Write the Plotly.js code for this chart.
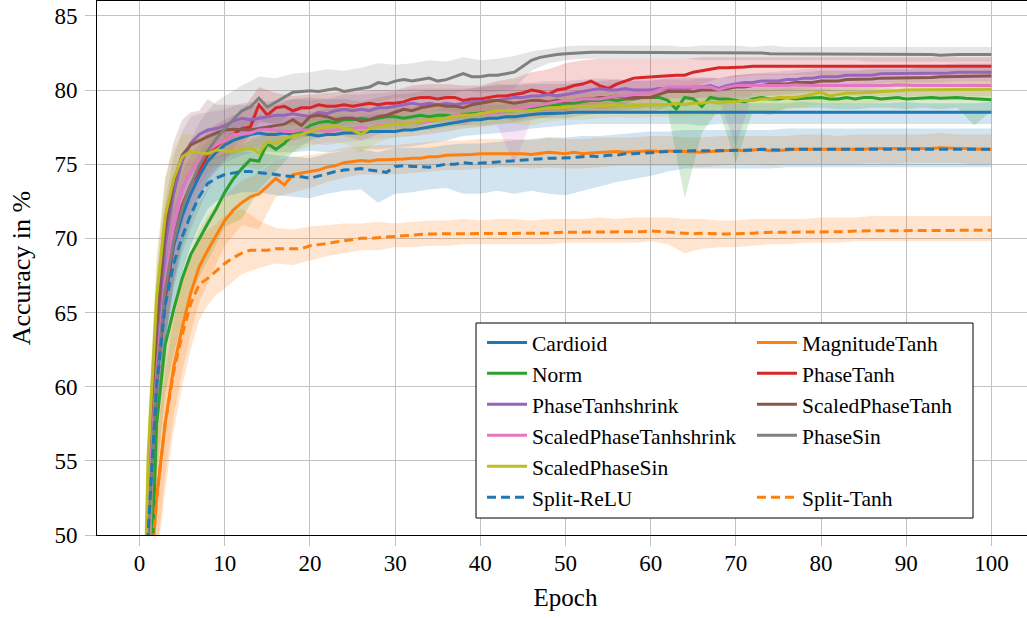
<!DOCTYPE html>
<html><head><meta charset="utf-8">
<script src="https://cdn.plot.ly/plotly-3.0.1.min.js"></script>
<style>html,body{margin:0;padding:0;overflow:hidden;background:#fff}#chart{width:1040px;height:619px}</style>
</head><body><div id="chart"></div>
<script>
const epochs = [0,1,2,3,4,5,6,7,8,9,10,11,12,13,14,15,16,17,18,19,20,21,22,23,24,25,26,27,28,29,30,31,32,33,34,35,36,37,38,39,40,41,42,43,44,45,46,47,48,49,50,51,52,53,54,55,56,57,58,59,60,61,62,63,64,65,66,67,68,69,70,71,72,73,74,75,76,77,78,79,80,81,82,83,84,85,86,87,88,89,90,91,92,93,94,95,96,97,98,99,100];
const bandEpochs = [0,1,2,3,4,5,6,7,8,9,10,12,14,16,18,20,22,24,26,28,30,32,34,36,38,40,42,44,46,48,50,52,54,56,58,60,62,64,66,68,70,72,74,76,78,80,82,84,86,88,90,92,94,96,98,100];
const xTicks = [0,10,20,30,40,50,60,70,80,90,100];
const yTicks = [50,55,60,65,70,75,80,85];

const cardioid = [30,51,60.5,66,69.5,71.5,73,74.2,75.2,75.8,76.3,
 76.6,76.8,77.0,77.1,77.0,77.0,77.1,77.0,77.1,77.0,
 76.9,77.0,77.0,77.1,77.1,77.1,77.2,77.2,77.2,77.2,
 77.3,77.3,77.4,77.5,77.6,77.7,77.8,77.9,78.0,78.0,
 78.1,78.1,78.2,78.2,78.3,78.35,78.4,78.4,78.45,78.45,
 78.5,78.5,78.5,78.45,78.5,78.5,78.5,78.5,78.5,78.5,
 78.5,78.5,78.5,78.5,78.5,78.45,78.5,78.5,78.5,78.5,
 78.5,78.5,78.5,78.5,78.5,78.5,78.5,78.5,78.5,78.5,
 78.5,78.5,78.5,78.5,78.5,78.5,78.5,78.5,78.5,78.5,
 78.5,78.5,78.5,78.5,78.5,78.5,78.5,78.5,78.5,78.5];
const cardioidHi = [33,55,64,69,72,73.6,74.8,75.8,76.6,77.1,77.5,
 78.0,78.3,78.2,78.2,78.1,78.2,78.3,78.2,78.4,78.3,
 78.5,78.6,78.8,78.9,79.0,79.0,79.1,79.1,79.1,79.1,
 79.1,79.1,79.2,79.1,79.1,79.1,79.1,79.1,79.2,79.1,
 79.1,79.1,79.1,79.2,79.1,79.1,79.1,79.1,79.1,79.2,
 79.1,79.1,79.1,79.1,79.2];
const cardioidLo = [27,47,57,63,67,69.4,71.2,72.6,73.8,74.5,75.1,
 75.6,75.9,75.8,75.8,75.9,75.8,75.9,76.0,76.0,76.1,
 76.2,76.4,76.6,76.9,77.0,77.1,77.2,77.4,77.5,77.6,
 77.7,77.7,77.7,77.7,77.7,77.7,77.7,77.6,77.7,77.7,
 77.7,77.7,77.7,77.7,77.7,77.7,77.7,77.7,77.7,77.7,
 77.7,77.7,77.7,77.7,77.7];

const magnitudeTanh = [25,45,52.5,57.5,61.3,64.0,66.3,68.1,69.2,70.2,71.2,
 71.9,72.4,72.8,73.0,73.5,74.05,73.6,74.3,74.4,74.5,
 74.6,74.8,74.9,75.1,75.15,75.25,75.2,75.3,75.3,75.3,
 75.35,75.4,75.4,75.5,75.5,75.6,75.6,75.6,75.65,75.7,
 75.7,75.75,75.7,75.75,75.7,75.65,75.7,75.8,75.75,75.7,
 75.8,75.7,75.75,75.8,75.8,75.85,75.8,75.85,75.9,75.9,
 75.85,75.9,75.9,75.85,75.8,75.8,75.85,75.9,75.9,75.95,
 75.9,75.95,76.0,75.9,75.9,75.95,76.0,76.0,76.0,76.0,
 76.0,75.95,76.0,76.0,76.0,76.05,76.05,76.0,76.0,76.05,
 76.05,76.05,76.05,76.1,76.05,76.05,76.05,76.0,76.0,76.0];
const magnitudeTanhHi = [29,49,56.5,61,64.5,67,69,70.5,71.5,72.2,72.9,
 73.9,74.4,75.3,75.5,75.6,75.8,76.1,76.2,76.3,76.3,
 76.4,76.5,76.6,76.6,76.7,76.7,76.7,76.6,76.8,76.7,
 76.7,76.8,76.8,76.8,76.9,76.9,76.8,76.8,76.9,76.9,
 76.9,76.9,76.9,77.0,77.0,76.9,77.0,77.0,77.0,77.0,
 77.0,77.1,77.0,77.0,77.0];
const magnitudeTanhLo = [21,41,48.5,54,58,61,63.6,65.7,67,68.2,69.5,
 70.9,70.6,72.8,73.1,73.4,73.8,74.1,74.3,74.3,74.3,
 74.4,74.5,74.6,74.6,74.7,74.8,74.8,74.7,74.8,74.7,
 74.7,74.8,74.9,74.9,74.9,74.9,74.9,74.8,74.9,75.0,
 75.0,74.9,75.0,75.0,75.0,75.0,75.0,75.1,75.0,75.1,
 75.1,75.1,75.1,75.0,75.0];

const norm = [25,40,57.5,62.8,65.2,67.3,68.9,70.0,71.0,72.0,73.1,
 74.0,74.7,75.3,75.2,76.4,76.0,76.4,77.0,77.2,77.6,
 77.8,77.9,77.8,78.0,78.0,78.1,78.0,78.1,78.2,78.2,
 78.1,78.2,78.3,78.2,78.3,78.3,78.2,78.35,78.4,78.4,
 78.5,78.5,78.6,78.6,78.7,78.8,78.8,78.9,79.0,79.1,
 79.1,79.2,79.3,79.3,79.4,79.3,79.4,79.4,79.5,79.5,
 79.5,79.3,78.7,79.5,79.4,78.9,79.5,79.4,79.4,79.3,
 79.2,79.4,79.5,79.4,79.4,79.5,79.4,79.45,79.5,79.5,
 79.4,79.4,79.5,79.4,79.5,79.5,79.4,79.45,79.5,79.4,
 79.45,79.5,79.5,79.45,79.5,79.5,79.45,79.4,79.35,79.35];
const normHi = [29,46,61,66,68.2,70,71.5,72.5,73.4,74.3,75.1,
 76.3,76.9,77.4,78.1,78.5,78.7,78.8,78.8,78.9,78.9,
 78.9,79.0,79.0,79.1,79.1,79.2,79.3,79.5,79.6,79.8,
 79.8,79.9,79.9,80.0,80.1,80.1,80.1,80.0,80.1,80.0,
 80.0,80.0,80.1,80.1,80.1,80.0,80.0,80.1,80.1,80.0,
 80.1,80.1,80.1,80.0,80.0];
const normLo = [21,35,54,59.5,62.2,64.5,66.3,67.5,68.5,69.6,70.8,
 71.3,73.3,74.5,75.8,76.6,77.0,77.1,77.2,77.2,77.4,
 77.4,77.3,77.5,77.6,77.6,77.7,77.8,78.0,78.2,78.4,
 78.5,78.6,78.6,78.7,78.8,78.6,72.7,77.1,78.7,75.1,
 78.6,78.3,78.8,78.8,78.8,78.7,78.7,78.8,78.8,78.7,
 78.8,78.7,78.8,77.6,78.6];

const phaseTanh = [30,51,60.5,66,69.8,72.2,73.6,74.6,75.6,76.2,76.6,
 77.0,77.4,77.5,79.0,78.3,78.8,78.9,78.6,78.8,78.8,
 79.0,78.9,78.9,79.0,78.9,79.0,79.1,79.0,79.1,79.1,
 79.2,79.4,79.5,79.5,79.4,79.5,79.5,79.3,79.4,79.4,
 79.5,79.6,79.6,79.7,79.8,80.0,79.9,79.7,80.0,80.1,
 80.3,80.4,80.6,80.3,80.1,80.4,80.6,80.8,80.85,80.9,
 80.9,80.95,81.0,81.0,81.2,81.3,81.4,81.5,81.5,81.5,
 81.55,81.6,81.6,81.6,81.6,81.6,81.6,81.6,81.6,81.6,
 81.6,81.6,81.65,81.6,81.6,81.6,81.65,81.6,81.6,81.6,
 81.6,81.6,81.6,81.65,81.6,81.6,81.6,81.6,81.6,81.6];
const phaseTanhHi = [34,55,64,69,72.5,74.5,75.6,76.4,77.2,77.7,78.0,
 78.6,80.2,79.8,79.6,79.7,79.8,79.9,79.9,80.0,80.0,
 80.3,80.4,80.4,80.3,80.3,80.6,80.8,81.2,81.4,81.8,
 82.0,82.1,82.1,82.1,82.1,82.1,82.1,82.2,82.2,82.2,
 82.2,82.2,82.2,82.2,82.2,82.2,82.2,82.2,82.2,82.2,
 82.2,82.2,82.2,82.2,82.2];
const phaseTanhLo = [26,47,57,63,67,70,71.6,72.8,74.0,74.7,75.2,
 76.2,77.8,77.8,77.6,77.9,78.0,78.1,78.1,78.1,78.2,
 78.5,78.6,78.6,78.4,78.5,78.6,78.6,78.8,78.3,78.5,
 78.8,78.7,78.8,79.3,79.6,79.8,80.0,80.4,80.8,80.9,
 81.0,81.0,81.0,81.0,81.0,81.0,81.0,81.0,81.0,81.0,
 81.0,81.0,81.0,81.0,81.0];

const phaseTanhshrink = [30,52.5,63,69.5,73.0,75.2,76.4,77.0,77.3,77.4,77.6,
 77.9,78.1,78.0,78.1,78.2,78.3,78.3,78.4,78.3,78.2,
 78.5,78.4,78.6,78.7,78.6,78.7,78.6,78.8,78.8,78.9,
 79.0,79.1,79.0,79.1,79.0,79.1,79.0,79.1,79.2,79.2,
 79.3,79.3,79.4,79.5,79.5,79.6,79.6,79.7,79.6,79.7,
 79.8,79.9,80.0,80.1,80.0,80.0,80.1,80.0,80.0,80.0,
 80.1,80.1,80.1,80.0,80.2,80.2,80.3,80.1,80.3,80.4,
 80.5,80.5,80.6,80.6,80.6,80.7,80.7,80.8,80.8,80.9,
 80.9,80.9,81.0,81.0,81.0,81.0,81.1,81.1,81.1,81.1,
 81.1,81.1,81.15,81.15,81.15,81.2,81.2,81.2,81.2,81.2];
const phaseTanhshrinkHi = [34,57,67,72.5,75.5,77.2,78.2,78.4,78.5,78.6,78.7,
 79.1,79.2,79.3,79.4,79.3,79.4,79.7,79.7,79.8,79.9,
 80.1,80.1,80.1,80.1,80.2,80.3,80.4,80.5,80.6,80.6,
 80.7,80.8,80.7,80.7,80.7,80.7,80.6,80.8,80.8,81.0,
 81.1,81.2,81.3,81.4,81.5,81.5,81.6,81.6,81.7,81.7,
 81.7,81.7,81.8,81.8,81.8];
const phaseTanhshrinkLo = [26,48,59,66,70,72.8,74.4,75.4,75.9,76.1,76.3,
 76.9,77.0,77.1,77.3,77.0,77.3,77.6,77.6,77.7,77.8,
 78.0,78.0,78.0,78.0,78.1,78.2,78.4,78.5,78.6,78.6,
 78.9,79.1,79.2,79.3,79.4,79.5,79.4,79.5,79.4,76.2,
 79.8,79.9,80.0,80.1,80.2,80.3,80.4,80.4,80.5,80.5,
 80.5,80.5,80.6,80.6,80.6];

const scaledPhaseTanh = [30,53,64,70.5,73.8,75.6,76.3,76.6,76.85,77.1,77.3,
 77.35,77.35,77.3,77.4,77.5,77.6,77.7,78.0,77.6,78.2,
 78.3,78.2,78.0,78.1,78.1,77.9,78.0,78.2,78.3,78.5,
 78.7,78.6,78.8,78.9,79.0,78.9,78.9,78.8,79.0,79.1,
 79.2,79.3,79.2,79.1,79.2,79.3,79.3,79.2,79.3,79.2,
 79.3,79.4,79.4,79.5,79.5,79.6,79.5,79.5,79.45,79.5,
 79.7,79.9,79.9,79.9,79.9,80.0,80.0,80.0,80.1,80.2,
 80.2,80.3,80.3,80.4,80.4,80.4,80.5,80.5,80.5,80.6,
 80.6,80.6,80.7,80.7,80.7,80.75,80.8,80.8,80.8,80.8,
 80.85,80.85,80.85,80.9,80.9,80.9,80.9,80.95,80.95,80.95];
const scaledPhaseTanhHi = [34,57,68,74,76.5,78,78.5,78.6,79.4,79.0,79.0,
 79.0,78.9,79.0,79.4,79.5,79.4,79.4,79.2,79.5,79.7,
 79.8,80.0,80.0,80.0,80.2,80.4,80.3,80.4,80.4,80.4,
 80.5,80.6,80.7,80.6,80.6,80.8,80.8,80.8,80.8,81.0,
 81.1,81.1,81.1,81.2,81.3,81.3,81.3,81.4,81.4,81.4,
 81.5,81.5,81.5,81.5,81.5];
const scaledPhaseTanhLo = [26,49,60,67,71,73.2,74.2,74.8,75.1,75.4,75.6,
 75.8,76.0,76.2,76.6,76.9,77.0,76.9,76.6,77.0,77.3,
 77.4,77.8,77.8,77.6,78.0,78.2,77.9,78.2,78.1,78.1,
 78.3,78.4,78.5,78.4,78.4,78.9,79.0,79.1,79.2,79.4,
 79.5,79.6,79.7,79.8,79.9,79.9,80.0,80.1,80.2,80.2,
 80.2,80.3,80.3,80.4,80.4];

const scaledPhaseTanhshrink = [30,52,61,67,71,73.3,74.5,75.3,75.9,76.3,76.6,
 77.0,77.0,77.1,77.3,77.35,77.3,77.2,77.2,77.3,77.3,
 77.3,77.2,77.3,77.4,77.4,77.5,77.4,77.6,77.6,77.7,
 77.7,77.8,77.8,77.9,78.0,78.1,78.3,78.3,78.3,78.4,
 78.4,78.5,78.6,78.7,78.8,78.9,79.0,79.1,79.2,79.3,
 79.3,79.4,79.4,79.4,79.5,79.6,79.6,79.7,79.8,79.8,
 80.0,80.2,80.2,80.2,80.2,80.2,80.2,80.0,80.2,80.3,
 80.3,80.3,80.25,80.3,80.3,80.3,80.35,80.3,80.3,80.3,
 80.3,80.3,80.3,80.25,80.3,80.3,80.3,80.3,80.35,80.3,
 80.3,80.3,80.3,80.3,80.3,80.25,80.3,80.3,80.3,80.3];
const scaledPhaseTanhshrinkHi = [34,56,65,70.5,74,75.8,76.6,77.1,77.4,77.6,77.8,
 78.1,78.3,78.3,78.2,78.2,78.1,78.3,78.4,78.5,78.6,
 78.7,78.8,79.0,79.2,79.3,79.4,79.6,79.8,80.0,80.2,
 80.3,80.3,80.5,80.6,80.7,80.9,80.9,80.9,80.8,81.0,
 81.0,81.0,81.0,81.0,81.0,81.0,81.0,81.0,81.0,81.0,
 81.0,81.0,81.0,81.0,81.0];
const scaledPhaseTanhshrinkLo = [26,48,57,63.5,68,70.8,72.4,73.5,74.4,75.0,75.4,
 75.9,76.3,76.3,76.2,76.4,76.3,76.5,76.6,76.7,76.8,
 76.9,77.0,77.2,77.4,77.5,77.6,75.0,78.0,78.2,78.4,
 78.5,78.5,78.7,78.8,78.9,79.4,79.5,79.5,79.3,79.6,
 79.6,79.6,79.6,79.6,79.6,79.6,79.6,79.6,79.6,79.6,
 79.6,79.6,79.6,79.6,79.6];

const phaseSin = [30,50.5,60.5,66.5,69.8,72.0,73.6,74.9,75.9,76.7,77.4,
 78.0,78.6,78.85,79.45,78.85,79.2,79.5,79.85,79.9,79.95,
 79.9,80.0,80.1,79.9,80.0,80.1,80.2,80.5,80.4,80.6,
 80.7,80.6,80.7,80.8,80.6,80.7,80.9,81.1,80.9,80.9,
 81.0,81.0,81.1,81.2,81.6,82.0,82.2,82.3,82.4,82.45,
 82.5,82.55,82.55,82.55,82.55,82.55,82.55,82.55,82.55,82.55,
 82.55,82.5,82.5,82.5,82.5,82.5,82.5,82.5,82.5,82.5,
 82.5,82.5,82.5,82.45,82.45,82.45,82.45,82.45,82.45,82.45,
 82.45,82.45,82.4,82.4,82.4,82.4,82.4,82.4,82.4,82.4,
 82.4,82.4,82.4,82.35,82.4,82.4,82.4,82.4,82.4,82.4];
const phaseSinHi = [34,55,64.5,70,73,75,76.6,77.8,78.6,79.2,79.6,
 80.3,80.9,80.8,81.1,81.2,81.4,81.3,81.5,81.8,81.7,
 81.8,82.0,81.9,82.2,82.0,82.1,82.3,82.6,82.8,82.95,
 83.0,83.0,83.0,83.0,83.0,83.0,82.9,83.0,83.0,83.0,
 82.9,83.0,82.9,82.9,82.9,82.9,82.9,82.9,82.9,82.9,
 82.9,82.9,82.9,82.9,82.9];
const phaseSinLo = [26,46,56.5,63,66.6,69,70.6,72,73.2,74.2,75.2,
 76.9,78.0,77.6,78.5,78.7,78.6,78.5,78.7,79.2,79.5,
 79.4,79.6,79.5,80.0,79.8,79.9,80.1,81.3,81.8,82.0,
 82.1,82.1,82.1,82.1,82.1,82.1,82.1,82.0,82.0,82.0,
 82.0,82.0,82.0,82.0,82.0,82.0,82.0,81.9,81.9,81.9,
 81.9,81.9,81.9,81.9,81.9];

const scaledPhaseSin = [31,55.3,66,71.5,74.0,75.5,75.85,75.8,75.7,75.95,75.9,
 75.85,76.0,76.1,75.75,76.5,76.4,76.7,76.9,77.0,77.2,
 77.4,77.5,77.6,77.4,77.3,77.0,77.4,77.5,77.6,77.7,
 77.7,77.8,77.9,78.0,78.0,78.1,78.2,78.3,78.3,78.4,
 78.5,78.6,78.6,78.6,78.6,78.6,78.7,78.8,78.8,78.85,
 78.9,78.9,78.9,78.9,78.95,79.0,78.9,78.95,79.0,79.0,
 79.0,79.0,79.1,79.0,79.1,79.1,79.2,79.1,79.2,79.2,
 79.3,79.3,79.4,79.4,79.5,79.5,79.5,79.6,79.7,79.85,
 79.6,79.7,79.8,79.8,79.8,79.85,79.9,79.9,79.95,80.0,
 80.0,80.0,80.05,80.05,80.05,80.05,80.05,80.05,80.05,80.05];
const scaledPhaseSinHi = [34,58,69,74,76,77,77,76.9,76.8,77.0,77.0,
 77.0,76.8,77.4,77.9,78.1,78.4,78.3,77.9,78.4,78.5,
 78.6,78.8,78.9,79.1,79.2,79.4,79.4,79.4,79.6,79.6,
 79.7,79.7,79.8,79.7,79.8,79.8,79.8,79.9,79.9,80.0,
 80.1,80.2,80.2,80.3,80.5,80.4,80.5,80.5,80.6,80.7,
 80.7,80.7,80.7,80.7,80.7];
const scaledPhaseSinLo = [28,52.5,63,69,72,74,74.6,74.7,74.6,74.9,74.8,
 74.9,74.6,75.3,75.8,76.2,76.5,76.4,75.8,76.5,76.8,
 76.9,77.1,77.2,77.4,77.5,77.7,77.7,77.6,77.9,78.0,
 78.0,78.1,78.2,78.1,78.2,78.2,78.2,78.3,78.3,78.4,
 78.5,78.6,78.7,78.8,79.1,79.0,79.1,79.1,79.2,79.3,
 79.3,79.3,79.3,79.3,79.3];

const splitReLU = [25,50.1,60,65.5,68.3,70.1,71.6,72.8,73.7,74.05,74.3,
 74.4,74.5,74.5,74.45,74.4,74.3,74.2,74.2,74.15,74.05,
 74.2,74.4,74.5,74.6,74.65,74.7,74.6,74.5,74.45,74.85,
 74.9,74.85,74.8,74.8,74.9,75.0,75.0,75.1,75.05,75.1,
 75.1,75.15,75.2,75.2,75.25,75.3,75.35,75.4,75.4,75.4,
 75.45,75.5,75.55,75.5,75.6,75.6,75.7,75.7,75.75,75.8,
 75.8,75.85,75.85,75.9,75.9,75.9,75.9,75.95,75.95,75.95,
 75.95,75.95,76.0,75.95,75.95,76.0,76.0,76.0,76.0,76.0,
 76.0,76.0,76.0,76.0,76.0,76.0,76.0,76.0,76.0,76.0,
 76.0,76.0,76.0,76.0,76.0,76.0,76.0,76.0,76.0,76.0];
const splitReLUHi = [29,54,63.5,68.5,71,72.5,73.7,74.6,75.3,75.5,75.7,
 75.8,75.8,75.6,75.5,75.4,75.7,75.9,76.0,75.8,76.1,
 76.1,76.1,76.3,76.4,76.4,76.5,76.6,76.7,76.8,76.8,
 76.9,76.9,77.0,77.1,77.2,77.2,77.3,77.3,77.3,77.3,
 77.3,77.3,77.4,77.4,77.4,77.4,77.4,77.4,77.4,77.4,
 77.4,77.4,77.4,77.4,77.4];
const splitReLULo = [21,46,56.5,62.5,65.5,67.7,69.5,70.9,72.0,72.5,72.8,
 73.1,73.1,72.9,72.8,72.7,73.0,73.2,73.3,72.4,73.0,
 73.1,73.3,73.4,73.0,73.0,73.2,73.0,73.2,73.0,72.9,
 73.2,73.5,73.8,74.0,74.2,74.5,74.7,74.7,74.7,74.7,
 74.7,74.7,74.8,74.8,74.8,74.8,74.8,74.8,74.8,74.8,
 74.8,74.8,74.8,74.8,74.8];

const splitTanh = [25,45,52.5,57.5,61.0,63.5,65.6,66.9,67.3,67.8,68.3,
 68.7,69.0,69.2,69.2,69.2,69.3,69.3,69.25,69.3,69.5,
 69.55,69.65,69.75,69.85,69.9,70.0,70.0,70.05,70.1,70.15,
 70.2,70.2,70.25,70.3,70.3,70.3,70.3,70.35,70.35,70.35,
 70.35,70.35,70.3,70.35,70.3,70.35,70.3,70.35,70.4,70.4,
 70.4,70.4,70.4,70.45,70.4,70.4,70.45,70.45,70.45,70.5,
 70.45,70.45,70.4,70.3,70.3,70.35,70.3,70.3,70.3,70.3,
 70.35,70.35,70.4,70.4,70.4,70.4,70.4,70.45,70.45,70.45,
 70.45,70.45,70.45,70.5,70.5,70.5,70.5,70.5,70.5,70.5,
 70.5,70.5,70.55,70.55,70.5,70.55,70.55,70.55,70.55,70.55];
const splitTanhHi = [29,49,57,62,65,67,68.8,70,70.5,71,71.5,
 72.0,71.2,70.7,70.6,70.8,70.9,71.0,71.0,71.1,71.0,
 71.1,71.2,71.2,71.3,71.2,71.3,71.3,71.2,71.3,71.3,
 71.3,71.4,71.3,71.4,71.4,71.4,71.3,71.3,71.2,71.2,
 71.3,71.3,71.3,71.3,71.4,71.4,71.4,71.5,71.5,71.5,
 71.5,71.5,71.5,71.5,71.5];
const splitTanhLo = [21,41,48,53,57,60,62.5,64.5,65.5,66.2,66.6,
 67.6,68.0,68.3,68.2,68.5,68.8,69.0,69.2,69.2,69.4,
 69.4,69.5,69.5,69.6,69.6,69.6,69.6,69.6,69.6,69.7,
 69.7,69.7,69.7,69.7,69.8,69.6,69.0,69.3,69.4,69.4,
 69.5,69.6,69.6,69.7,69.7,69.7,69.8,69.8,69.8,69.8,
 69.8,69.8,69.8,69.8,69.8];

const series = [
 {name:'Cardioid', y:cardioid, hi:cardioidHi, lo:cardioidLo, color:'#1f77b4', rgb:'31,119,180', dash:'solid', legend:'legend'},
 {name:'MagnitudeTanh', y:magnitudeTanh, hi:magnitudeTanhHi, lo:magnitudeTanhLo, color:'#ff7f0e', rgb:'255,127,14', dash:'solid', legend:'legend2'},
 {name:'Norm', y:norm, hi:normHi, lo:normLo, color:'#2ca02c', rgb:'44,160,44', dash:'solid', legend:'legend'},
 {name:'PhaseTanh', y:phaseTanh, hi:phaseTanhHi, lo:phaseTanhLo, color:'#d62728', rgb:'214,39,40', dash:'solid', legend:'legend2'},
 {name:'PhaseTanhshrink', y:phaseTanhshrink, hi:phaseTanhshrinkHi, lo:phaseTanhshrinkLo, color:'#9467bd', rgb:'148,103,189', dash:'solid', legend:'legend'},
 {name:'ScaledPhaseTanh', y:scaledPhaseTanh, hi:scaledPhaseTanhHi, lo:scaledPhaseTanhLo, color:'#8c564b', rgb:'140,86,75', dash:'solid', legend:'legend2'},
 {name:'ScaledPhaseTanhshrink', y:scaledPhaseTanhshrink, hi:scaledPhaseTanhshrinkHi, lo:scaledPhaseTanhshrinkLo, color:'#e377c2', rgb:'227,119,194', dash:'solid', legend:'legend'},
 {name:'PhaseSin', y:phaseSin, hi:phaseSinHi, lo:phaseSinLo, color:'#7f7f7f', rgb:'127,127,127', dash:'solid', legend:'legend2'},
 {name:'ScaledPhaseSin', y:scaledPhaseSin, hi:scaledPhaseSinHi, lo:scaledPhaseSinLo, color:'#bcbd22', rgb:'188,189,34', dash:'solid', legend:'legend'},
 {name:'Split-ReLU', y:splitReLU, hi:splitReLUHi, lo:splitReLULo, color:'#1f77b4', rgb:'31,119,180', dash:'9px,5px', legend:'legend'},
 {name:'Split-Tanh', y:splitTanh, hi:splitTanhHi, lo:splitTanhLo, color:'#ff7f0e', rgb:'255,127,14', dash:'9px,5px', legend:'legend2'}
];

const traces = [];
const bandX = bandEpochs.concat(bandEpochs.slice().reverse());
series.forEach(s => {
  traces.push({x: bandX, y: s.hi.concat(s.lo.slice().reverse()), type:'scatter', mode:'lines',
    fill:'toself', fillcolor:'rgba(' + s.rgb + ',0.2)', line:{width:0, color:'rgba(0,0,0,0)'},
    showlegend:false, hoverinfo:'skip'});
});
series.forEach(s => {
  if (s.name === 'Split-ReLU') {
    traces.push({x:[null], y:[null], type:'scatter', mode:'lines', name:' ', legend:'legend2',
      line:{color:'rgba(0,0,0,0)', width:3}, hoverinfo:'skip'});
  }
  traces.push({x: epochs, y: s.y, type:'scatter', mode:'lines', name: s.name, legend: s.legend,
    line:{color:s.color, width:3, dash:s.dash}});
});

const fontFam = '"Liberation Serif", "DejaVu Serif", serif';
const gridCol = '#c2c2c2';
const layout = {
  width:1040, height:619,
  margin:{l:97, r:6, t:1, b:84},
  paper_bgcolor:'#ffffff', plot_bgcolor:'#ffffff',
  font:{family:fontFam, size:23, color:'#000'},
  xaxis:{range:[-5,105], tickvals:xTicks, ticktext:xTicks.map(String), showgrid:true, gridcolor:gridCol, gridwidth:1,
    zeroline:false, showline:true, linecolor:'#000', linewidth:1, mirror:true, ticks:'outside', ticklen:10,
    tickcolor:gridCol, tickwidth:1, tickfont:{family:fontFam, size:23, color:'#000'}, ticklabelstandoff:-3,
    title:{text:'Epoch', font:{family:fontFam, size:25, color:'#000'}, standoff:13}},
  yaxis:{range:[50,86], tickvals:yTicks, ticktext:yTicks.map(String), showgrid:true, gridcolor:gridCol, gridwidth:1,
    zeroline:false, showline:true, linecolor:'#000', linewidth:1, mirror:true, ticks:'outside', ticklen:11,
    tickcolor:gridCol, tickwidth:1, tickfont:{family:fontFam, size:23, color:'#000'}, ticklabelstandoff:3,
    title:{text:'Accuracy in %', font:{family:fontFam, size:26, color:'#000'}, standoff:16}},
  legend:{x:0.4109, xanchor:'left', y:0.399, yanchor:'top', bgcolor:'rgba(0,0,0,0)', borderwidth:0,
    font:{family:fontFam, size:21.5, color:'#000'}, itemwidth:40, tracegroupgap:0},
  legend2:{x:0.699, xanchor:'left', y:0.399, yanchor:'top', bgcolor:'rgba(0,0,0,0)', borderwidth:0,
    font:{family:fontFam, size:21.5, color:'#000'}, itemwidth:40, tracegroupgap:0},
  shapes:[{type:'rect', xref:'paper', yref:'paper', x0:0.4045, x1:0.9349, y0:0.0318, y1:0.397,
    line:{color:'#000', width:1}, fillcolor:'#ffffff', layer:'above'}]
};
Plotly.newPlot('chart', traces, layout, {displayModeBar:false, staticPlot:true});
</script></body></html>
